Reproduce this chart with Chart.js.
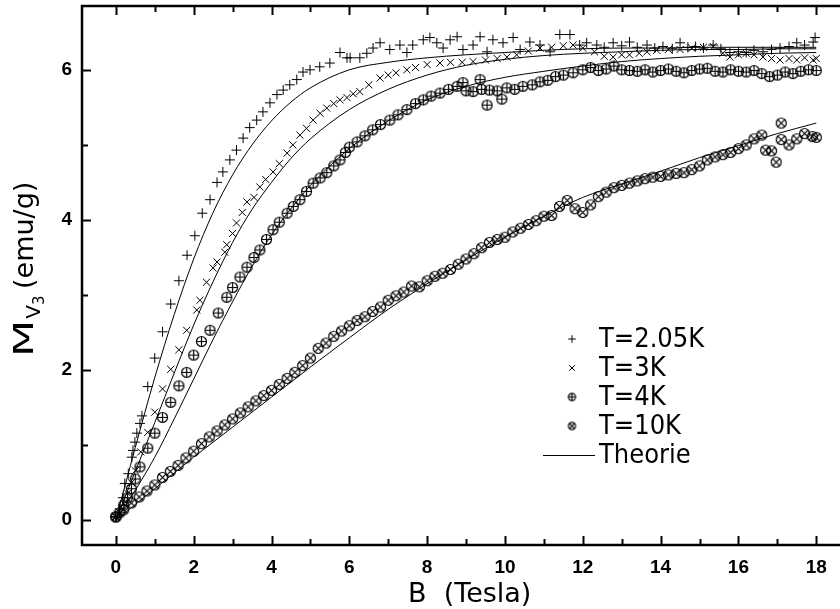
<!DOCTYPE html>
<html>
<head>
<meta charset="utf-8">
<script src="https://cdn.jsdelivr.net/npm/chart.js@4"></script>
<style>
  body { margin: 0; background: #fff; overflow: hidden; }
  canvas { display: block; }
</style>
</head>
<body>
<canvas id="myChart" width="840" height="609"></canvas>
<script>
// tick labels
var xTickVals = [0, 2, 4, 6, 8, 10, 12, 14, 16, 18];
var xMinorVals = [1, 3, 5, 7, 9, 11, 13, 15, 17];
var yTickVals = [0, 2, 4, 6];
var yMinorVals = [1, 3, 5];

// T=2.05K  (B in Tesla, M in emu/g)
var b205 = [0,0.1,0.18,0.23,0.32,0.41,0.44,0.49,0.54,0.62,0.67,0.82,1.0,1.2,1.41,1.62,1.83,2.03,2.22,2.42,
  2.6,2.75,2.93,3.1,3.27,3.44,3.62,3.78,3.96,4.14,4.3,4.47,4.65,4.81,4.99,5.24,5.5,5.76,5.94,6.02,
  6.27,6.45,6.61,6.79,7.04,7.3,7.48,7.63,7.9,8.07,8.25,8.41,8.59,8.77,8.92,9.18,9.36,9.54,9.69,9.95,
  10.21,10.39,10.64,10.9,11.16,11.41,11.67,11.92,12.1,12.36,12.55,12.78,13.0,13.2,13.4,13.65,13.85,14.06,14.3,14.5,
  14.7,14.9,15.1,15.35,15.55,15.78,16.0,16.2,16.4,16.63,16.85,17.07,17.3,17.5,17.7,17.92,17.97];
var m205 = [0.05,0.15,0.3,0.49,0.62,0.84,0.93,1.04,1.16,1.29,1.39,1.78,2.16,2.51,2.88,3.19,3.53,3.79,4.09,4.27,
  4.5,4.64,4.8,4.93,5.09,5.23,5.33,5.44,5.56,5.67,5.73,5.8,5.87,5.97,6.0,6.04,6.09,6.23,6.16,6.16,
  6.16,6.22,6.29,6.36,6.27,6.33,6.23,6.33,6.4,6.43,6.36,6.29,6.4,6.44,6.27,6.33,6.44,6.24,6.4,6.36,
  6.43,6.27,6.37,6.33,6.24,6.47,6.47,6.33,6.36,6.33,6.3,6.36,6.32,6.37,6.3,6.33,6.29,6.31,6.28,6.36,
  6.3,6.31,6.29,6.33,6.28,6.23,6.24,6.23,6.26,6.24,6.27,6.29,6.31,6.36,6.33,6.37,6.43];

// T=3K
var b3 = [0,0.1,0.2,0.3,0.4,0.5,0.64,0.82,1.0,1.2,1.41,1.62,1.82,2.08,2.16,2.33,2.5,2.6,2.8,2.85,
  3.0,3.1,3.25,3.37,3.55,3.7,3.85,4.04,4.2,4.4,4.55,4.73,4.9,5.07,5.25,5.42,5.6,5.76,5.94,6.1,
  6.27,6.5,6.79,7.0,7.2,7.48,7.7,8.0,8.33,8.6,8.9,9.18,9.5,9.8,10.05,10.3,10.6,10.9,11.2,11.5,
  11.75,12.0,12.3,12.55,12.78,13.0,13.2,13.45,13.65,13.9,14.2,14.5,14.8,15.1,15.35,15.6,15.78,16.0,16.2,16.4,
  16.63,16.85,17.07,17.3,17.5,17.7,17.92,18.0];
var m3 = [0.04,0.1,0.22,0.36,0.5,0.66,0.91,1.17,1.44,1.75,2.01,2.27,2.53,2.8,2.93,3.17,3.36,3.44,3.57,3.67,
  3.82,3.96,4.1,4.24,4.3,4.44,4.54,4.64,4.75,4.89,5.0,5.13,5.22,5.33,5.42,5.49,5.55,5.6,5.63,5.68,
  5.71,5.8,5.89,5.93,5.96,6.0,6.03,6.07,6.09,6.1,6.1,6.11,6.13,6.15,6.17,6.2,6.25,6.29,6.3,6.32,
  6.33,6.29,6.24,6.18,6.17,6.2,6.2,6.22,6.24,6.26,6.27,6.27,6.29,6.3,6.31,6.22,6.17,6.2,6.22,6.2,
  6.17,6.15,6.13,6.15,6.13,6.16,6.13,6.15];

// T=4K
var b4 = [0,0.1,0.2,0.3,0.4,0.5,0.62,0.82,1.0,1.2,1.41,1.62,1.82,2.0,2.2,2.42,2.63,2.85,3.0,3.19,
  3.37,3.55,3.7,3.87,4.04,4.2,4.4,4.56,4.73,4.9,5.07,5.25,5.42,5.6,5.76,5.9,6.0,6.2,6.4,6.6,
  6.8,7.04,7.25,7.48,7.7,7.9,8.1,8.33,8.55,8.77,8.92,9.0,9.18,9.36,9.4,9.54,9.6,9.8,9.92,10.05,
  10.25,10.46,10.7,10.9,11.1,11.3,11.5,11.75,12.0,12.2,12.4,12.6,12.8,13.0,13.2,13.4,13.6,13.8,14.0,14.2,
  14.4,14.6,14.8,15.0,15.2,15.4,15.6,15.8,16.0,16.2,16.4,16.6,16.8,17.0,17.2,17.4,17.6,17.8,18.0];
var m4 = [0.04,0.1,0.2,0.3,0.42,0.55,0.71,0.96,1.16,1.37,1.57,1.79,1.97,2.2,2.38,2.53,2.76,2.97,3.1,3.24,
  3.37,3.5,3.6,3.74,3.87,3.97,4.09,4.18,4.27,4.38,4.49,4.56,4.63,4.72,4.8,4.9,4.97,5.04,5.12,5.2,
  5.27,5.33,5.4,5.47,5.55,5.6,5.65,5.69,5.74,5.78,5.83,5.72,5.71,5.87,5.74,5.53,5.73,5.72,5.61,5.76,
  5.74,5.78,5.8,5.84,5.86,5.91,5.93,5.96,6.0,6.03,5.99,6.01,6.05,6.0,5.99,5.98,6.0,5.97,5.99,6.01,
  5.98,5.96,5.99,6.01,6.02,5.98,5.97,6.0,5.98,5.97,5.99,5.95,5.91,5.93,5.97,5.95,5.98,6.0,5.99];

// T=10K
var b10 = [0,0.2,0.4,0.6,0.8,1.0,1.2,1.4,1.6,1.8,2.0,2.2,2.4,2.6,2.8,3.0,3.2,3.4,3.6,3.8,
  4.0,4.2,4.4,4.6,4.8,5.0,5.2,5.4,5.6,5.8,6.0,6.2,6.4,6.6,6.8,7.0,7.2,7.4,7.6,7.8,
  8.0,8.2,8.4,8.6,8.8,9.0,9.2,9.4,9.6,9.8,10.0,10.2,10.4,10.6,10.8,11.0,11.2,11.4,11.6,11.8,
  12.0,12.2,12.4,12.6,12.8,13.0,13.2,13.4,13.6,13.8,14.0,14.2,14.4,14.6,14.8,15.0,15.2,15.4,15.6,15.8,
  16.0,16.2,16.4,16.6,16.7,16.85,16.97,17.1,17.1,17.3,17.5,17.7,17.9,18.0];
var m10 = [0.05,0.14,0.23,0.31,0.39,0.47,0.57,0.65,0.73,0.83,0.92,1.02,1.11,1.19,1.27,1.35,1.43,1.51,1.59,1.66,
  1.73,1.81,1.89,1.97,2.06,2.16,2.29,2.36,2.45,2.52,2.59,2.66,2.71,2.78,2.84,2.93,2.99,3.04,3.12,3.11,
  3.19,3.25,3.29,3.34,3.41,3.48,3.55,3.63,3.7,3.74,3.77,3.84,3.89,3.94,3.99,4.05,4.06,4.18,4.26,4.15,
  4.1,4.2,4.31,4.37,4.43,4.46,4.49,4.52,4.55,4.57,4.58,4.6,4.62,4.63,4.67,4.72,4.8,4.84,4.87,4.9,
  4.95,5.0,5.08,5.13,4.93,4.92,4.77,5.29,5.07,5.0,5.08,5.15,5.11,5.1];

// Theorie curves
var bTh = [0,0.5,1,1.5,2,2.5,3,3.5,4,4.5,5,6,7,8,9,10,11,12,13,14,15,16,17,18];
var th205 = [0,0.97,1.9,2.74,3.48,4.1,4.6,5.0,5.32,5.57,5.76,6.0,6.1,6.16,6.2,6.23,6.26,6.28,6.29,6.29,6.3,6.3,6.3,6.3];
var th3 = [0,0.65,1.3,1.96,2.6,3.18,3.7,4.14,4.5,4.82,5.08,5.47,5.74,5.93,6.06,6.14,6.19,6.22,6.24,6.26,6.27,6.27,6.28,6.28];
var th4 = [0,0.4,0.84,1.35,1.88,2.41,2.91,3.38,3.8,4.15,4.46,4.95,5.32,5.6,5.78,5.9,5.98,6.05,6.11,6.15,6.18,6.2,6.22,6.23];
var th10 = [0,0.21,0.42,0.63,0.84,1.04,1.24,1.44,1.64,1.84,2.04,2.43,2.81,3.15,3.47,3.77,4.05,4.3,4.48,4.65,4.83,4.99,5.15,5.29];

function pts(bs, ms) {
  return bs.map(function (b, i) { return {x: b, y: ms[i]}; });
}

// circle markers with plus / cross inside
function makeMarker(r, rot) {
  var c = document.createElement('canvas');
  var s = Math.ceil(r * 2 + 3);
  c.width = s; c.height = s;
  var g = c.getContext('2d');
  var m = s / 2;
  g.strokeStyle = '#000';
  g.lineWidth = 1.2;
  g.beginPath();
  g.arc(m, m, r, 0, Math.PI * 2);
  g.stroke();
  g.beginPath();
  if (rot) {
    var d = r * 0.72;
    g.moveTo(m - d, m - d); g.lineTo(m + d, m + d);
    g.moveTo(m - d, m + d); g.lineTo(m + d, m - d);
  } else {
    g.moveTo(m - r, m); g.lineTo(m + r, m);
    g.moveTo(m, m - r); g.lineTo(m, m + r);
  }
  g.stroke();
  return c;
}
var oplus = makeMarker(5, false);
var otimes = makeMarker(5, true);
var oplusSmall = makeMarker(3.6, false);
var otimesSmall = makeMarker(3.6, true);

function theoryLine(data) {
  return {
    data: data,
    showLine: true,
    borderColor: '#000',
    borderWidth: 1,
    pointRadius: 0,
    cubicInterpolationMode: 'monotone'
  };
}

var data = {
  datasets: [
    {
      label: 'T=2.05K',
      data: pts(b205, m205),
      pointStyle: 'cross',
      pointRadius: 5,
      borderColor: '#000',
      borderWidth: 1
    },
    {
      label: 'T=3K',
      data: pts(b3, m3),
      pointStyle: 'crossRot',
      pointRadius: 5,
      borderColor: '#000',
      borderWidth: 1
    },
    {
      label: 'T=4K',
      data: pts(b4, m4),
      pointStyle: oplus
    },
    {
      label: 'T=10K',
      data: pts(b10, m10),
      pointStyle: otimes
    },
    theoryLine(pts(bTh, th205)),
    theoryLine(pts(bTh, th3)),
    theoryLine(pts(bTh, th4)),
    theoryLine(pts(bTh, th10))
  ]
};

var tickFont = {family: '"Liberation Sans Narrow", "Liberation Sans", "DejaVu Sans", sans-serif', size: 19, weight: 'bold'};

function fixBox(s, w, h) {
  if (w !== null) s.width = w;
  if (h !== null) s.height = h;
  s.paddingTop = 0; s.paddingBottom = 0; s.paddingLeft = 0; s.paddingRight = 0;
}

// frame, inward ticks, titles and legend
var decor = {
  id: 'decor',
  afterDraw: function (chart) {
    var ctx = chart.ctx;
    var a = chart.chartArea;
    var xs = chart.scales.x, ys = chart.scales.y;
    ctx.save();
    ctx.strokeStyle = '#000';
    ctx.fillStyle = '#000';

    ctx.lineWidth = 2.5;
    ctx.beginPath();
    ctx.moveTo(a.right + 10, a.top);
    ctx.lineTo(a.left, a.top);
    ctx.lineTo(a.left, a.bottom);
    ctx.lineTo(a.right + 10, a.bottom);
    ctx.stroke();

    ctx.lineWidth = 2;
    ctx.beginPath();
    xTickVals.concat(xMinorVals).forEach(function (v) {
      var len = xTickVals.indexOf(v) >= 0 ? 9 : 6;
      var px = Math.round(xs.getPixelForValue(v)) + 0.5;
      ctx.moveTo(px, a.bottom); ctx.lineTo(px, a.bottom - len);
      ctx.moveTo(px, a.top); ctx.lineTo(px, a.top + len);
    });
    yTickVals.concat(yMinorVals).forEach(function (v) {
      var len = yTickVals.indexOf(v) >= 0 ? 9 : 6;
      var py = Math.round(ys.getPixelForValue(v)) + 0.5;
      ctx.moveTo(a.left, py); ctx.lineTo(a.left + len, py);
    });
    ctx.stroke();

    // x title
    ctx.font = '27px "DejaVu Sans", sans-serif';
    ctx.textBaseline = 'alphabetic';
    ctx.textAlign = 'left';
    ctx.fillText('B  (Tesla)', 408, 602);

    // y title, rotated
    ctx.save();
    ctx.translate(33, 357);
    ctx.rotate(-Math.PI / 2);
    ctx.save();
    ctx.scale(1.6, 1);
    ctx.fillText('M', 0, 0);
    ctx.restore();
    var mw = ctx.measureText('M').width * 1.6;
    ctx.font = '20px "DejaVu Sans", sans-serif';
    ctx.fillText('V', mw + 1, 7);
    var vw = ctx.measureText('V').width;
    ctx.font = '15px "DejaVu Sans", sans-serif';
    ctx.fillText('3', mw + vw + 1, 11);
    ctx.font = '27px "DejaVu Sans", sans-serif';
    ctx.fillText('(emu/g)', 68, 0);
    ctx.restore();

    // legend
    var lx = 572, tx = 599;
    var rows = [339, 368, 397, 426, 455];
    var labels = ['T=2.05K', 'T=3K', 'T=4K', 'T=10K', 'Theorie'];
    ctx.lineWidth = 1;
    ctx.beginPath();
    ctx.moveTo(lx - 3.8, rows[0]); ctx.lineTo(lx + 3.8, rows[0]);
    ctx.moveTo(lx, rows[0] - 3.8); ctx.lineTo(lx, rows[0] + 3.8);
    ctx.moveTo(lx - 2.8, rows[1] - 2.8); ctx.lineTo(lx + 2.8, rows[1] + 2.8);
    ctx.moveTo(lx - 2.8, rows[1] + 2.8); ctx.lineTo(lx + 2.8, rows[1] - 2.8);
    ctx.moveTo(543, rows[4] + 0.5); ctx.lineTo(595, rows[4] + 0.5);
    ctx.stroke();
    ctx.drawImage(oplusSmall, lx - oplusSmall.width / 2, rows[2] - oplusSmall.height / 2);
    ctx.drawImage(otimesSmall, lx - otimesSmall.width / 2, rows[3] - otimesSmall.height / 2);
    ctx.font = '27px "DejaVu Sans Condensed", "DejaVu Sans", sans-serif';
    ctx.textBaseline = 'middle';
    labels.forEach(function (t, i) { ctx.fillText(t, tx, rows[i] + 1); });

    ctx.restore();
  }
};

var options = {
  responsive: false,
  animation: false,
  devicePixelRatio: 1,
  layout: { autoPadding: false, padding: { top: 6, right: 0, left: 0, bottom: 0 } },
  plugins: {
    legend: { display: false },
    tooltip: { enabled: false }
  },
  scales: {
    x: {
      type: 'linear',
      min: -0.87,
      max: 18.61,
      grid: { display: false, drawTicks: false },
      border: { display: false },
      ticks: { color: '#000', font: tickFont, padding: 11, maxRotation: 0 },
      afterBuildTicks: function (s) { s.ticks = xTickVals.map(function (v) { return {value: v}; }); },
      afterFit: function (s) { fixBox(s, null, 64); }
    },
    y: {
      type: 'linear',
      min: -0.33,
      max: 6.85,
      grid: { display: false, drawTicks: false },
      border: { display: false },
      ticks: { color: '#000', font: tickFont, padding: 10 },
      afterBuildTicks: function (s) { s.ticks = yTickVals.map(function (v) { return {value: v}; }); },
      afterFit: function (s) { fixBox(s, 82, null); }
    }
  }
};

var ctx = document.getElementById('myChart').getContext('2d');
var scatterChart = new Chart(ctx, {
  type: 'scatter',
  data: data,
  options: options,
  plugins: [decor]
});
</script>
</body>
</html>
